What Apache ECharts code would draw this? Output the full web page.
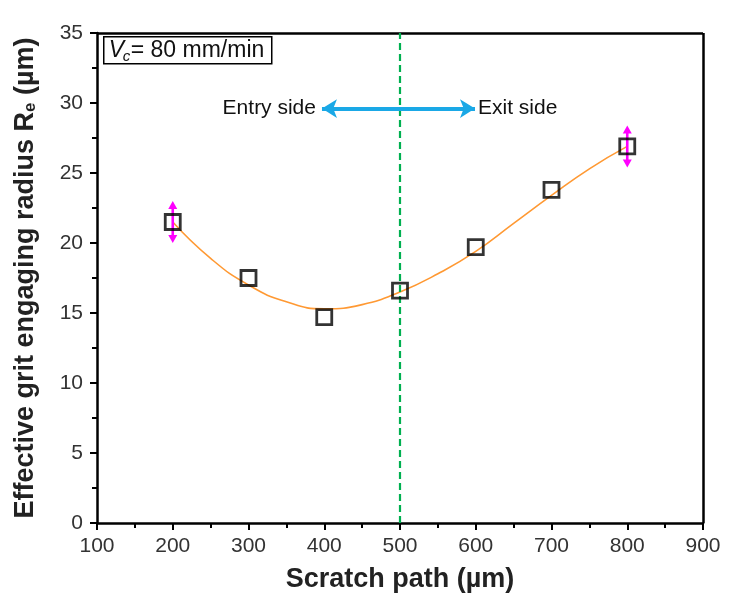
<!DOCTYPE html>
<html>
<head>
<meta charset="utf-8">
<script src="https://cdn.jsdelivr.net/npm/echarts@6/dist/echarts.min.js"></script>
<style>html,body{margin:0;padding:0;background:#fff}#c{width:729px;height:602px}</style>
</head>
<body>
<div id="c"></div>
<script>
// ---- data ----
var scratchPath = [200, 300, 400, 500, 600, 700, 800];
var radius = [21.5, 17.5, 14.7, 16.6, 19.7, 23.8, 26.9];
var errPath = [200, 800];
var errVal = [21.5, 26.9];
var errSize = [1.5, 1.5];
var fitPath = [200, 250, 300, 350, 400, 450, 500, 550, 600, 650, 700, 750, 800];
var fitVal = [21.5, 18.9, 17.0, 15.8, 15.3, 15.6, 16.5, 17.8, 19.4, 21.4, 23.4, 25.3, 26.9];
var dividerX = 500;
var arrowFrom = [397, 29.6];
var arrowTo = [599, 29.6];
var xTicks = [100, 200, 300, 400, 500, 600, 700, 800, 900];
var yTicks = [0, 5, 10, 15, 20, 25, 30, 35];

var chart = echarts.init(document.getElementById('c'));
var font = 'Liberation Sans, Arial, sans-serif';

var option = {
  animation: false,
  grid: { left: 97, right: 26, top: 33, bottom: 79, show: false },
  xAxis: {
    type: 'value', min: xTicks[0], max: xTicks[xTicks.length - 1], interval: 100,
    name: 'Scratch path (µm)', nameLocation: 'middle', nameGap: 43,
    nameTextStyle: { fontFamily: font, fontWeight: 'bold', fontSize: 27, color: '#222' },
    axisLine: { show: true, onZero: false, lineStyle: { color: '#000', width: 2.5 } },
    axisTick: { show: true, inside: false, length: 7, lineStyle: { color: '#000', width: 2 } },
    minorTick: { show: true, splitNumber: 2, length: 5, lineStyle: { color: '#000', width: 2 } },
    axisLabel: { fontFamily: font, fontSize: 21, color: '#333', margin: 13 },
    splitLine: { show: false }
  },
  yAxis: {
    type: 'value', min: yTicks[0], max: yTicks[yTicks.length - 1], interval: 5,
    name: '{b|Effective grit engaging radius R}{s|e}{b| (µm)}', nameLocation: 'middle', nameGap: 58,
    nameTextStyle: {
      rich: {
        b: { fontFamily: font, fontWeight: 'bold', fontSize: 27, color: '#222' },
        s: { fontFamily: font, fontWeight: 'bold', fontSize: 17, color: '#222', verticalAlign: 'bottom', padding: [10, 0, 0, 0] }
      }
    },
    axisLine: { show: true, onZero: false, lineStyle: { color: '#000', width: 2.5 } },
    axisTick: { show: true, inside: false, length: 7, lineStyle: { color: '#000', width: 2 } },
    minorTick: { show: true, splitNumber: 2, length: 5, lineStyle: { color: '#000', width: 2 } },
    axisLabel: { fontFamily: font, fontSize: 21, color: '#333', margin: 14 },
    splitLine: { show: false }
  },
  series: [
    {
      type: 'line', data: [], silent: true,
      markLine: {
        silent: true, symbol: 'none', animation: false,
        label: { show: false },
        data: [
          [{ coord: [xTicks[0], yTicks[yTicks.length - 1]], lineStyle: { color: '#000', width: 2.5, type: 'solid' } },
           { coord: [xTicks[xTicks.length - 1], yTicks[yTicks.length - 1]] }],
          [{ coord: [xTicks[xTicks.length - 1], yTicks[0]], lineStyle: { color: '#000', width: 2.5, type: 'solid' } },
           { coord: [xTicks[xTicks.length - 1], yTicks[yTicks.length - 1]] }],
          [{ coord: [dividerX, yTicks[0]], lineStyle: { color: '#00b050', width: 2.2, type: [7, 4] } },
           { coord: [dividerX, yTicks[yTicks.length - 1]] }]
        ]
      }
    },
    {
      type: 'line', data: [], silent: true,
      markLine: {
        silent: true, symbol: ['arrow', 'arrow'], symbolSize: [14, 15], animation: false,
        label: { show: false },
        lineStyle: { color: '#1aa8e6', width: 4, type: 'solid' },
        data: [[{ coord: arrowFrom }, { coord: arrowTo }]]
      }
    },
    {
      type: 'line', smooth: 0.5, symbol: 'none',
      data: fitPath.map(function (x, i) { return [x, fitVal[i]]; }),
      lineStyle: { color: '#ff9933', width: 1.6 }, z: 3
    },
    {
      type: 'custom', z: 4,
      data: errPath.map(function (x, i) { return [x, errVal[i], errSize[i]]; }),
      renderItem: function (params, api) {
        var x = api.value(0), y = api.value(1), e = api.value(2);
        var top = api.coord([x, y + e]);
        var bot = api.coord([x, y - e]);
        var c = api.coord([x, y]);
        var col = '#ff00ff', w = 4.5, h = 8;
        return {
          type: 'group',
          children: [
            { type: 'line', shape: { x1: c[0], y1: top[1] + h - 1, x2: c[0], y2: bot[1] - h + 1 }, style: { stroke: col, lineWidth: 2.6 } },
            { type: 'polygon', shape: { points: [[c[0], top[1]], [c[0] - w, top[1] + h], [c[0] + w, top[1] + h]] }, style: { fill: col } },
            { type: 'polygon', shape: { points: [[c[0], bot[1]], [c[0] - w, bot[1] - h], [c[0] + w, bot[1] - h]] }, style: { fill: col } }
          ]
        };
      }
    },
    {
      type: 'scatter', z: 5,
      data: scratchPath.map(function (x, i) { return [x, radius[i]]; }),
      symbol: 'rect', symbolSize: 15,
      itemStyle: { color: 'rgba(0,0,0,0)', borderColor: '#000', borderWidth: 2.8 }
    },
    {
      type: 'custom', z: 6,
      data: [[arrowFrom[0], arrowFrom[1], 0], [arrowTo[0], arrowTo[1], 1]],
      renderItem: function (params, api) {
        var p = api.coord([api.value(0), api.value(1)]);
        var left = api.value(2) === 0;
        return {
          type: 'text',
          style: {
            x: left ? p[0] - 6 : p[0] + 3, y: p[1],
            text: left ? 'Entry side' : 'Exit side',
            align: left ? 'right' : 'left', verticalAlign: 'middle',
            font: '21px ' + font, fill: '#111'
          }
        };
      }
    }
  ],
  graphic: [
    {
      type: 'group', left: 103, top: 36,
      children: [
        { type: 'rect', shape: { x: 0, y: 0, width: 168, height: 27 }, style: { fill: '#fff', stroke: '#000', lineWidth: 1.5 } },
        { type: 'text', style: { x: 5, y: 14, text: 'V', font: 'italic 23px ' + font, fill: '#111', verticalAlign: 'middle' } },
        { type: 'text', style: { x: 19, y: 20, text: 'c', font: 'italic 15px ' + font, fill: '#111', verticalAlign: 'middle' } },
        { type: 'text', style: { x: 27, y: 14, text: '= 80 mm/min', font: '23px ' + font, fill: '#111', verticalAlign: 'middle' } }
      ]
    }
  ]
};
chart.setOption(option);
</script>
</body>
</html>
